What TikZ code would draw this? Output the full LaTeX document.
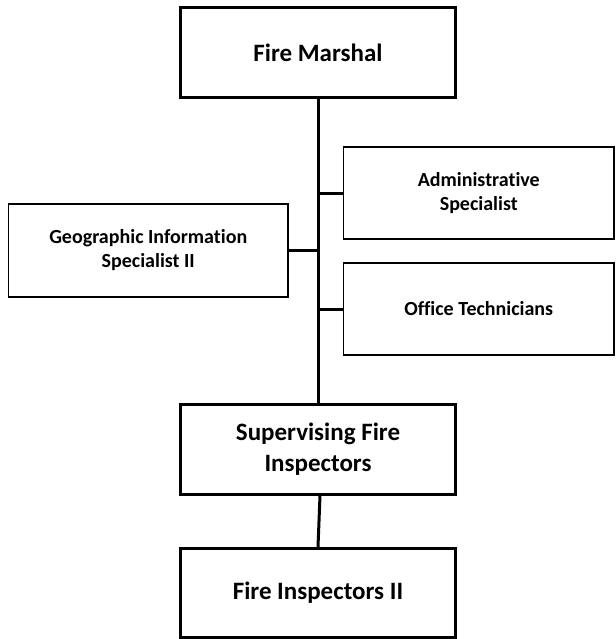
\documentclass[tikz,border=0pt]{standalone}
\usepackage{fontspec}
\setmainfont{Carlito}[Ligatures={NoCommon}]
\begin{document}
\begin{tikzpicture}[x=1pt,y=-1pt,
  mainbox/.style={draw=black,line width=3pt,fill=white,rectangle,inner sep=0pt,
    minimum width=275pt,align=center,font=\fontsize{25}{30.5}\selectfont\bfseries},
  sidebox/.style={draw=black,line width=1.5pt,fill=white,rectangle,inner sep=0pt,
    minimum height=92pt,align=center,font=\fontsize{20}{24}\selectfont\bfseries},
  link/.style={draw=black,line width=3pt}]
\useasboundingbox (0,0) rectangle (615,639);
% chain of command
\node[mainbox,minimum height=90pt] (fm) at (318,52.5) {Fire Marshal};
\node[mainbox,minimum height=89.5pt] (sup) at (318,449.25) {Supervising Fire\\Inspectors};
\node[mainbox,minimum height=89pt] (fi) at (318,593) {Fire Inspectors II};
% staff positions
\node[sidebox,minimum width=270.5pt] (adm) at (478.75,193) {Administrative\\Specialist};
\node[sidebox,minimum width=270.5pt] (off) at (478.75,309) {Office Technicians};
\node[sidebox,minimum width=279.5pt,minimum height=93pt] (geo) at (148.25,250.5) {Geographic Information\\Specialist II};
% junctions on the trunk
\coordinate (ja) at (fm.south |- adm.west);
\coordinate (jg) at (fm.south |- geo.east);
\coordinate (jo) at (fm.south |- off.west);
% connectors
\draw[link] (fm.south) -- (sup.north);
\draw[link] (ja) -- (adm.west);
\draw[link] (geo.east) -- (jg);
\draw[link] (jo) -- (off.west);
\draw[link] ([xshift=2pt]sup.south) -- (fi.north);
\end{tikzpicture}
\end{document}
